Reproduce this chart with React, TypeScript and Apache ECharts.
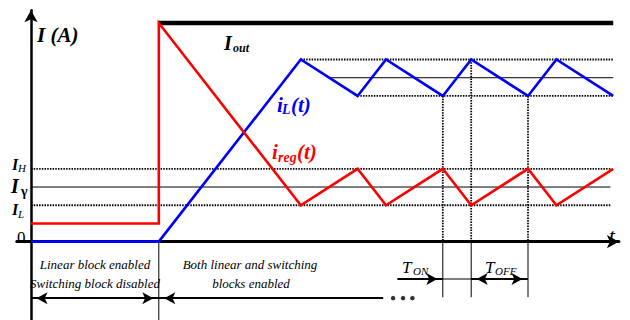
import React, { useEffect, useRef } from "react";
import * as echarts from "echarts";

// time axis (arbitrary units, T_ON = 10, T_OFF = 20), current axis (arbitrary A)
const redT = [0, 45, 45, 95, 115, 125, 145, 155, 175, 185, 205];
const redI = [1, 1, 12, 2, 4, 2, 4, 2, 4, 2, 4];
const blueT = [0, 45, 95, 115, 125, 145, 155, 175, 185, 205];
const blueI = [0, 0, 10, 8, 10, 8, 10, 8, 10, 8];
const outT = [45, 205];
const outI = [12, 12];

const regLevelValues = [4, 3, 2]; // I_H, I_gamma, I_L
const regLevelDotted = [true, false, true];
const regLevelStart = 0;
const regLevelEnd = 204;
const blueLevelValues = [10, 9, 8];
const blueLevelStart = [95, 105, 115];
const blueLevelDotted = [true, false, true];
const blueLevelEnd = 205;

const markerT = [145, 155, 175];
const markerTop = [8, 10, 8];
const markerBottom = -3.05;
const switchT = 45;
const switchBottom = -4.3;

const phaseArrowY = -3.1;
const phase1 = [0, 45];
const phase2 = [45, 124];
const dotsT = [127.5, 131, 134.3];
const periodArrowY = -2.05;
const tonArrow = [129, 145];
const tonGap = [145, 155];
const toffArrow = [155, 175];

const X_MIN = -5;
const X_MAX = 207;
const Y_MIN = -4.3;
const Y_MAX = 12.7;

const SERIF = "Liberation Serif";

function pairs(xs: number[], ys: number[]) {
  return xs.map((x, i) => [x, ys[i]]);
}

function txt(
  text: string,
  x: number,
  y: number,
  size: number,
  bold: boolean,
  italic: boolean,
  fill = "#000",
  align = "left"
) {
  return {
    type: "text",
    x,
    y,
    silent: true,
    style: {
      text,
      fontFamily: SERIF,
      fontSize: size,
      fontWeight: bold ? "bold" : "normal",
      fontStyle: italic ? "italic" : "normal",
      fill,
      align,
      verticalAlign: "middle",
    },
  };
}

export default function App() {
  const ref = useRef<HTMLDivElement>(null);

  useEffect(() => {
    if (!ref.current) return;
    const chart = echarts.init(ref.current, undefined, { renderer: "svg" });

    const thin = (data: number[][], dotted: boolean, width = 1) => ({
      type: "line",
      data,
      symbol: "none",
      silent: true,
      z: 1,
      lineStyle: {
        color: "#000",
        width: dotted ? 1.8 : width,
        type: dotted ? [1.5, 1.2] : "solid",
      },
    });

    const series: any[] = [];

    regLevelValues.forEach((v, i) => {
      series.push(thin([[regLevelStart, v], [regLevelEnd, v]], regLevelDotted[i]));
    });
    blueLevelValues.forEach((v, i) => {
      series.push(thin([[blueLevelStart[i], v], [blueLevelEnd, v]], blueLevelDotted[i]));
    });
    markerT.forEach((t, i) => {
      series.push(thin([[t, markerTop[i]], [t, 0]], true));
      series.push(thin([[t, 0], [t, markerBottom]], false));
    });
    series.push(thin([[switchT, 0], [switchT, switchBottom]], false));
    series.push(thin([[tonGap[0], periodArrowY], [tonGap[1], periodArrowY]], false));

    const arrowEnd = (t: number, y: number, head: boolean) => ({
      coord: [t, y],
      symbol: head ? "arrow" : "none",
      symbolSize: [9, 11],
      symbolOffset: [0, 5.5],
    });

    series.push({
      type: "line",
      data: [
        [phase1[0], phaseArrowY],
        [phase1[0], phaseArrowY],
      ],
      symbol: "none",
      lineStyle: { width: 0 },
      silent: true,
      z: 3,
      markLine: {
        silent: true,
        animation: false,
        label: { show: false },
        lineStyle: { color: "#000", width: 2.2, type: "solid" },
        emphasis: { disabled: true },
        data: [
          [arrowEnd(phase1[0], phaseArrowY, true), arrowEnd(phase1[1], phaseArrowY, true)],
          [arrowEnd(phase2[0], phaseArrowY, true), arrowEnd(phase2[1], phaseArrowY, false)],
          [arrowEnd(tonArrow[0], periodArrowY, false), arrowEnd(tonArrow[1], periodArrowY, true)],
          [arrowEnd(toffArrow[0], periodArrowY, true), arrowEnd(toffArrow[1], periodArrowY, true)],
        ],
      },
    });

    series.push({
      type: "scatter",
      data: dotsT.map((t) => [t, phaseArrowY]),
      symbol: "circle",
      symbolSize: 4.5,
      silent: true,
      itemStyle: { color: "#000" },
      z: 3,
    });

    series.push({
      type: "line",
      name: "Iout",
      data: pairs(outT, outI),
      symbol: "none",
      silent: true,
      z: 2,
      lineStyle: { color: "#000", width: 4.5, cap: "butt" },
    });
    series.push({
      type: "line",
      name: "iL",
      data: pairs(blueT, blueI),
      symbol: "none",
      silent: true,
      z: 4,
      lineStyle: { color: "#0000ff", width: 2.6, join: "miter" },
    });
    series.push({
      type: "line",
      name: "ireg",
      data: pairs(redT, redI),
      symbol: "none",
      silent: true,
      z: 5,
      lineStyle: { color: "#ff0000", width: 2.6, join: "miter" },
    });

    const graphic = [
      txt("I (A)", 37, 35, 21, true, true),
      txt("I", 224, 43, 20, true, true),
      txt("out", 233, 48, 12, true, true),
      txt("i", 277, 105, 21, true, true, "#0000ff"),
      txt("L", 282, 109, 14, true, true, "#0000ff"),
      txt("(t)", 291, 105, 21, true, true, "#0000ff"),
      txt("i", 272, 152, 21, true, true, "#ff0000"),
      txt("reg", 278, 157, 14, true, true, "#ff0000"),
      txt("(t)", 297, 152, 21, true, true, "#ff0000"),
      txt("I", 12, 164, 16, true, true),
      txt("H", 18, 168, 11, false, true),
      txt("I", 11, 186, 20, true, true),
      txt("γ", 21, 191, 14, true, false),
      txt("I", 12, 209, 16, true, true),
      txt("L", 18, 214, 11, false, true),
      txt("0", 17, 237, 17, false, false),
      txt("t", 609, 236, 21, false, true),
      txt("Linear block enabled", 95, 264, 13, false, true, "#000", "center"),
      txt("Switching block disabled", 95, 283, 13, false, true, "#000", "center"),
      txt("Both linear and switching", 250, 264, 13, false, true, "#000", "center"),
      txt("blocks enabled", 251, 283, 13, false, true, "#000", "center"),
      txt("T", 402, 267, 17, false, true),
      txt("ON", 413, 271, 11, false, true),
      txt("T", 485, 267, 17, false, true),
      txt("OFF", 495, 271, 11, false, true),
    ];

    const pxPerT = 2.84;
    const pxPerI = 18.4;
    const originX = 31;
    const originY = 244;

    chart.setOption({
      animation: false,
      backgroundColor: "#fff",
      grid: {
        left: originX + X_MIN * pxPerT,
        top: originY - Y_MAX * pxPerI,
        width: (X_MAX - X_MIN) * pxPerT,
        height: (Y_MAX - Y_MIN) * pxPerI,
        containLabel: false,
      },
      xAxis: {
        type: "value",
        min: X_MIN,
        max: X_MAX,
        axisLine: {
          show: true,
          onZero: true,
          symbol: ["none", "arrow"],
          symbolSize: [10, 12],
          lineStyle: { color: "#000", width: 3 },
        },
        axisTick: { show: false },
        axisLabel: { show: false },
        splitLine: { show: false },
      },
      yAxis: {
        type: "value",
        min: Y_MIN,
        max: Y_MAX,
        axisLine: {
          show: true,
          onZero: true,
          symbol: ["none", "arrow"],
          symbolSize: [10, 12],
          lineStyle: { color: "#000", width: 2.5 },
        },
        axisTick: { show: false },
        axisLabel: { show: false },
        splitLine: { show: false },
      },
      series,
      graphic,
    });

    return () => chart.dispose();
  }, []);

  return (
    <div
      ref={ref}
      style={{ position: "fixed", left: 0, top: 0, width: 630, height: 320, background: "#fff" }}
    />
  );
}
